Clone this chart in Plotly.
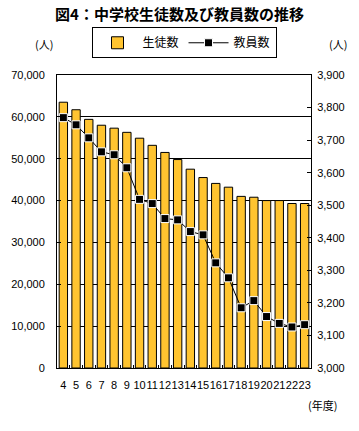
import plotly.graph_objects as go

years = ["4", "5", "6", "7", "8", "9", "10", "11", "12", "13",
         "14", "15", "16", "17", "18", "19", "20", "21", "22", "23"]
students = [63500, 61700, 59400, 58000, 57300, 56300, 54900, 53200, 51500, 49800,
            47500, 45500, 44100, 43200, 41000, 40800, 40000, 40000, 39300, 39300]
teachers = [3769, 3747, 3707, 3664, 3655, 3615, 3518, 3505, 3459, 3455,
            3419, 3409, 3323, 3277, 3185, 3207, 3158, 3137, 3126, 3133]

FONT = "Noto Sans CJK JP, Liberation Sans, sans-serif"
NUMFONT = "Liberation Sans, Arial, sans-serif"

fig = go.Figure()
fig.add_trace(go.Bar(
    x=years, y=students, name="生徒数",
    marker=dict(color="#FFE030",
                line=dict(color="black", width=1),
                pattern=dict(shape="-", fgcolor="#FF9900", bgcolor="#FFF060",
                             size=2, solidity=0.5, fillmode="replace")),
    yaxis="y",
))
fig.add_trace(go.Scatter(
    x=years, y=teachers, name="教員数", mode="lines+markers",
    line=dict(color="black", width=1),
    marker=dict(symbol="square", size=8, color="black",
                line=dict(color="white", width=1)),
    yaxis="y2",
))

fig.update_layout(
    width=359, height=431,
    margin=dict(l=57, r=48, t=75, b=63, pad=0, autoexpand=False),
    paper_bgcolor="white", plot_bgcolor="white",
    font=dict(family=FONT, size=12, color="black"),
    title=dict(text="<b>図4：中学校生徒数及び教員数の推移</b>", x=0.5, xanchor="center",
               y=0.965, yanchor="middle", font=dict(size=15, family=FONT)),
    bargap=0.34,
    showlegend=True,
    legend=dict(orientation="h", x=0.5, xanchor="center", y=1.11, yanchor="middle",
                bordercolor="black", borderwidth=1, bgcolor="white",
                font=dict(size=12, family=FONT), itemwidth=40,
                tracegroupgap=0),
    xaxis=dict(type="category", range=[-0.5, 19.5], domain=[0, 1],
               showline=True, linecolor="black", linewidth=1,
               mirror=True, ticks="inside", ticklen=3, tickson="boundaries",
               tickcolor="black", tickfont=dict(size=11, family=NUMFONT),
               tickmode="array", tickvals=years, ticktext=years,
               tickangle=0, ticklabelstandoff=7, automargin=False,
               showgrid=False),
    yaxis=dict(range=[0, 70000], dtick=10000, tickformat=",", showline=True,
               linecolor="black", linewidth=1, mirror=True, ticks="inside",
               ticklen=4, tickcolor="black", showgrid=True, gridcolor="black",
               gridwidth=1, tickfont=dict(size=11, family=NUMFONT),
               ticklabelstandoff=9, automargin=False, zeroline=False),
    yaxis2=dict(range=[3000, 3900], dtick=100, tickformat=",", overlaying="y",
                side="right", showline=True, linecolor="black", linewidth=1,
                ticks="inside", ticklen=4, tickcolor="black", showgrid=False,
                tickfont=dict(size=11, family=NUMFONT), ticklabelstandoff=3,
                automargin=False, zeroline=False),
    annotations=[
        dict(text="(人)", xref="paper", yref="paper", x=-0.05, y=1.105,
             xanchor="center", yanchor="middle", showarrow=False,
             font=dict(size=11, family=FONT)),
        dict(text="(人)", xref="paper", yref="paper", x=1.105, y=1.105,
             xanchor="center", yanchor="middle", showarrow=False,
             font=dict(size=11, family=FONT)),
        dict(text="(年度)", xref="paper", yref="paper", x=1.045, y=-0.125,
             xanchor="center", yanchor="middle", showarrow=False,
             font=dict(size=11, family=FONT)),
    ],
)

fig.write_html("out.html", config={"displayModeBar": False},
               post_script="document.body.style.margin='0';document.body.style.padding='0';")
